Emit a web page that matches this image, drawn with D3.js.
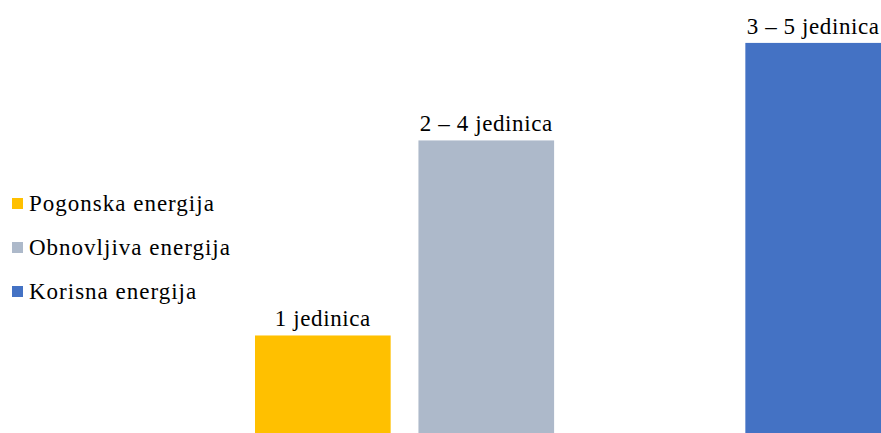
<!DOCTYPE html>
<html><head><meta charset="utf-8">
<script src="https://cdn.jsdelivr.net/npm/d3@7"></script>
<style>html,body{margin:0;padding:0;background:#fff;overflow:hidden}</style>
</head><body>
<script>
const categories = ["Pogonska energija", "Obnovljiva energija", "", "Korisna energija"];
const values = [1, 3, null, 4];
const labels = ["1 jedinica", "2 – 4 jedinica", "", "3 – 5 jedinica"];
const colors = ["#FFC000", "#ADB9CA", "none", "#4472C4"];
const legendItems = ["Pogonska energija", "Obnovljiva energija", "Korisna energija"];
const legendColors = ["#FFC000", "#ADB9CA", "#4472C4"];

const W = 881, H = 433;
const svg = d3.select("body").append("svg").attr("width", W).attr("height", H);
const font = "Liberation Serif, Times New Roman, serif";

const x = d3.scaleBand().domain(categories.map((c, i) => i)).range([255, 881]).paddingInner(0.17).paddingOuter(0);
const y = d3.scaleLinear().domain([0, 4.44]).range([H, 0]);

const data = categories.map((c, i) => ({i, c, v: values[i], l: labels[i], col: colors[i]})).filter(d => d.v != null);

svg.selectAll("rect.bar").data(data).enter().append("rect")
  .attr("class", "bar")
  .attr("x", d => x(d.i)).attr("width", x.bandwidth())
  .attr("y", d => y(d.v)).attr("height", d => H - y(d.v))
  .attr("fill", d => d.col);

svg.selectAll("text.lbl").data(data).enter().append("text")
  .attr("class", "lbl")
  .attr("x", d => x(d.i) + x.bandwidth() / 2)
  .attr("y", d => y(d.v) - 9)
  .attr("text-anchor", "middle")
  .style("font-family", font).style("font-size", "23px")
  .style("letter-spacing", "0.6px")
  .attr("fill", "#000")
  .text(d => d.l);

const lg = svg.append("g");
legendItems.forEach((t, i) => {
  const yy = 211 + i * 44;
  lg.append("rect").attr("x", 12).attr("y", yy - 13).attr("width", 11).attr("height", 11).attr("fill", legendColors[i]);
  lg.append("text").attr("x", 29).attr("y", yy)
    .style("font-family", font).style("font-size", "23px").style("letter-spacing", "1px")
    .attr("fill", "#000").text(t);
});
</script>
</body></html>
